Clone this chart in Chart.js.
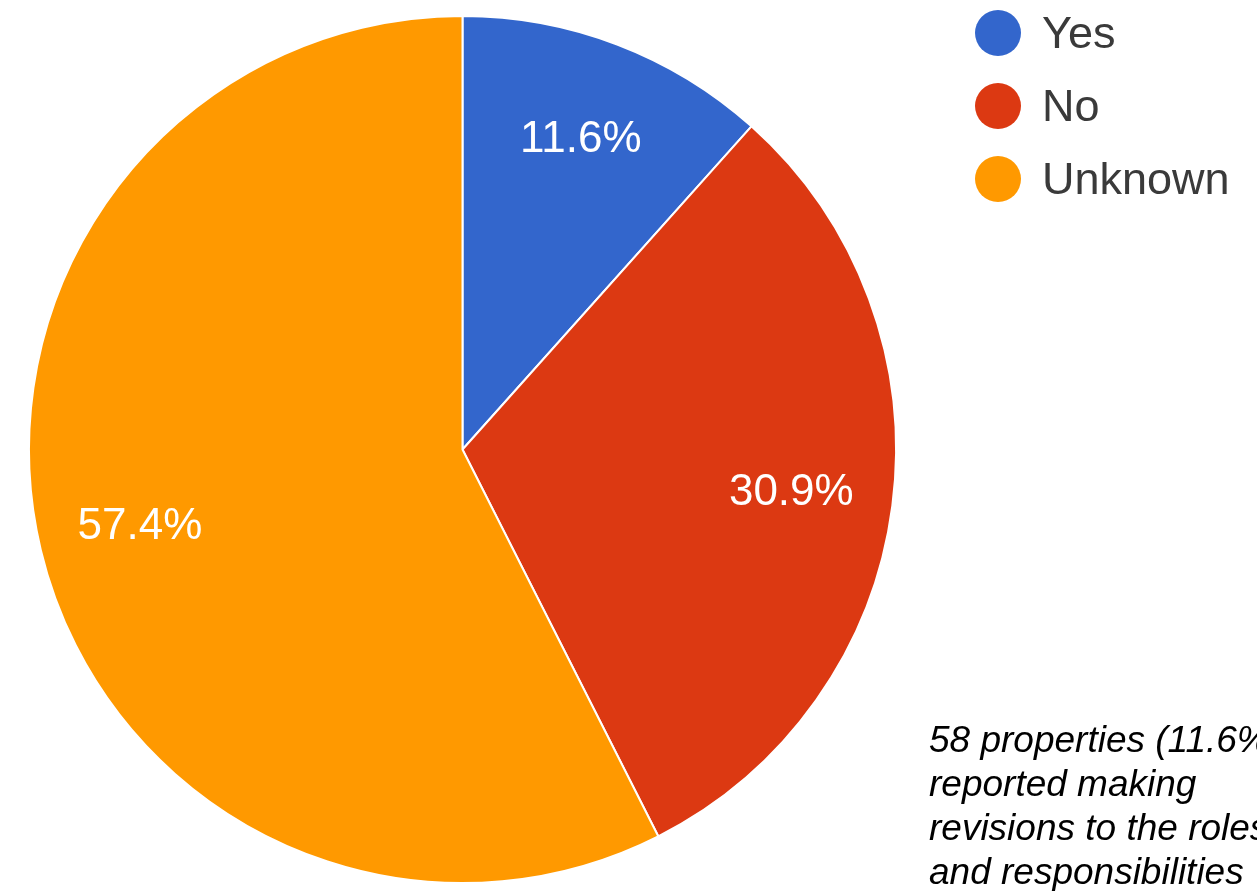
<!DOCTYPE html>
<html><head><meta charset="utf-8">
<script src="https://cdn.jsdelivr.net/npm/chart.js@4.4.0/dist/chart.umd.min.js"></script>
<style>
html,body{margin:0;padding:0;background:#fff;width:1257px;height:891px;overflow:hidden;position:relative;font-family:"Liberation Sans",Arial,sans-serif;}
#wrap{position:absolute;left:0;top:0;width:1257px;height:891px;}
#note{position:absolute;left:929px;top:718px;font-style:italic;font-size:37px;line-height:44px;color:#000;white-space:nowrap;}
</style></head>
<body>
<div id="wrap"><canvas id="c" width="1257" height="891"></canvas></div>
<div id="note">58 properties (11.6%)<br>reported making<br>revisions to the roles<br>and responsibilities</div>
<script>
const categories = ["Yes", "No", "Unknown"];
const values = [11.6, 30.9, 57.4];
const labels = ["11.6%", "30.9%", "57.4%"];
const colors = ["#3366cc", "#dc3912", "#ff9900"];

const sliceLabels = {
  id: 'sliceLabels',
  afterDatasetsDraw(chart) {
    const ctx = chart.ctx;
    const meta = chart.getDatasetMeta(0);
    ctx.save();
    ctx.fillStyle = '#ffffff';
    ctx.font = '44px "Liberation Sans", Arial, sans-serif';
    ctx.textAlign = 'center';
    ctx.textBaseline = 'middle';
    meta.data.forEach((arc, i) => {
      const p = arc.getProps(['x','y','startAngle','endAngle','outerRadius'], true);
      const mid = (p.startAngle + p.endAngle) / 2;
      const r = p.outerRadius * 0.765;
      ctx.fillText(labels[i], p.x + Math.cos(mid) * r, p.y + Math.sin(mid) * r);
    });
    ctx.restore();
  }
};

const sideLegend = {
  id: 'sideLegend',
  afterDraw(chart) {
    const ctx = chart.ctx;
    const ds = chart.data.datasets[0];
    ctx.save();
    ctx.font = '45px "Liberation Sans", Arial, sans-serif';
    ctx.textAlign = 'left';
    ctx.textBaseline = 'alphabetic';
    chart.data.labels.forEach((lab, i) => {
      const cy = 33 + i * 73;
      ctx.beginPath();
      ctx.arc(998, cy, 23, 0, Math.PI * 2);
      ctx.fillStyle = ds.backgroundColor[i];
      ctx.fill();
      ctx.fillStyle = '#3a3a3a';
      ctx.fillText(lab, 1042, cy + 15);
    });
    ctx.restore();
  }
};

new Chart(document.getElementById('c'), {
  type: 'pie',
  data: {
    labels: categories,
    datasets: [{
      data: values,
      backgroundColor: colors,
      borderColor: '#ffffff',
      borderWidth: 2
    }]
  },
  options: {
    responsive: false,
    animation: false,
    layout: { padding: { left: 28, top: 15, right: 360, bottom: 7 } },
    plugins: { legend: { display: false }, tooltip: { enabled: false } }
  },
  plugins: [sliceLabels, sideLegend]
});
</script>
</body></html>
